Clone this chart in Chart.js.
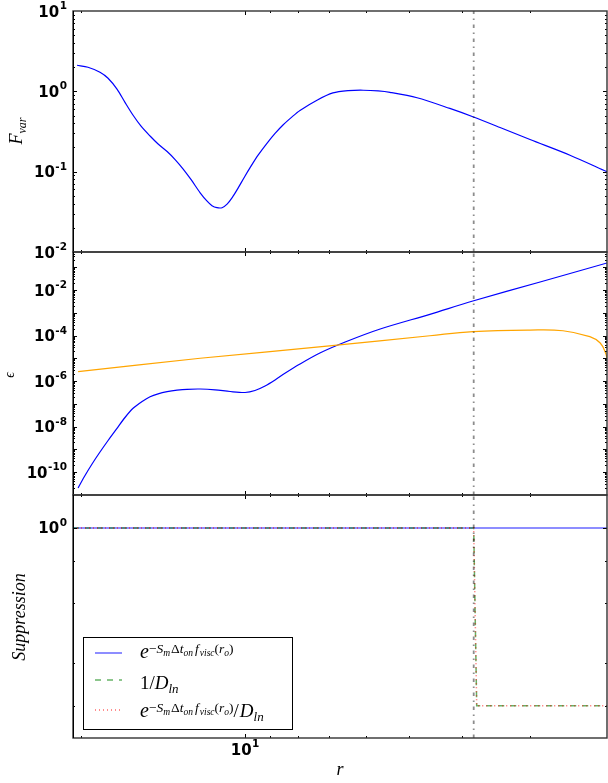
<!DOCTYPE html>
<html>
<head>
<meta charset="utf-8">
<script src="https://cdn.jsdelivr.net/npm/chart.js@4.4.1/dist/chart.umd.min.js"></script>
<style>
  html, body { margin: 0; padding: 0; background: #fff; }
  #fig { position: relative; width: 608px; height: 783px; overflow: hidden; }
  #fig canvas { position: absolute; left: 0; top: 0; }
</style>
</head>
<body>
<div id="fig">
  <canvas id="pFvar" width="608" height="783"></canvas>
  <canvas id="pEps" width="608" height="783"></canvas>
  <canvas id="pSup" width="608" height="783"></canvas>
</div>
<script>
// ---------- shared radius axis (log scale, r decreasing to the right) ----------
const rMin = 2.167, rMax = 20.69;
const rOuter = 3.806;                 // r_o, marked by the dash-dot line
const xMajorTicks = [10];
const xMinorTicks = [20, 9, 8, 7, 6, 5, 4, 3];
const xLabelExponents = [1];

// ---------- F_var ----------
const fvarR   = [20.34, 19.42, 18.46, 17.84, 17.18, 16.61, 16.05, 15.52, 14.94, 14.44, 13.9, 13.44, 13.0, 12.56, 12.09,
                 11.74, 11.5, 11.26, 11.02, 10.79, 10.56, 10.34, 10.0, 9.79, 9.465, 9.11, 8.81, 8.52, 8.2, 7.93, 7.38,
                 6.9, 6.47, 6.07, 5.7, 5.42, 4.835, 4.21, 3.82, 3.405, 3.0, 2.534, 2.167];
const fvarVal = [2.113, 1.995, 1.728, 1.454, 1.065, 0.729, 0.504, 0.369, 0.278, 0.221, 0.178, 0.1413, 0.1084, 0.0794,
                 0.0546, 0.0429, 0.0377, 0.0356, 0.0356, 0.0394, 0.0475, 0.0597, 0.0884, 0.1122, 0.1603, 0.227, 0.2995,
                 0.3815, 0.4815, 0.5788, 0.7762, 0.955, 1.02, 1.032, 1.012, 0.972, 0.832, 0.613, 0.483, 0.355, 0.251,
                 0.1603, 0.1];
const fvarLim = [0.01, 10];
const fvarLabelExp = [-2, -1, 0, 1];

// ---------- epsilon ----------
const epsBlueR   = [20.25, 19.74, 19.09, 18.46, 17.84, 17.18, 16.61, 16.05, 15.45, 14.94, 14.44, 13.9, 13.33, 12.78,
                    12.09, 11.35, 10.65, 10.0, 9.59, 9.19, 8.81, 8.45, 7.93, 7.29, 6.55, 5.65, 4.58, 3.82, 2.875, 2.167];
const epsBlueVal = [1.98e-11, 6.03e-11, 2.25e-10, 7.57e-10, 2.43e-9, 8.34e-9, 2.49e-8, 6.31e-8, 1.256e-7, 2.04e-7,
                    2.74e-7, 3.39e-7, 3.94e-7, 4.32e-7, 4.45e-7, 4.1e-7, 3.45e-7, 3.13e-7, 3.82e-7, 6.03e-7, 1.107e-6,
                    2.18e-6, 5.58e-6, 1.7e-5, 5.18e-5, 1.93e-4, 8.55e-4, 3.28e-3, 0.0225, 0.154];
const epsOrangeR   = [20.25, 12.09, 7.0, 4.58, 3.82, 3.0, 2.61, 2.33, 2.23, 2.18, 2.167];
const epsOrangeVal = [2.57e-6, 1.0e-5, 3.47e-5, 9.77e-5, 1.48e-4, 1.74e-4, 1.62e-4, 8.9e-5, 4.68e-5, 1.7e-5, 9.3e-6];
const epsLim = [9.77e-12, 0.468];
const epsLabelExp = [-10, -8, -6, -4, -2];

// ---------- suppression ----------
const supExpR   = [20.69, 2.167];
const supExpVal = [1, 1];
const supDlnR   = [20.69, 3.806, 3.758, 2.167];
const supDlnVal = [1, 1, 0.3, 0.3];
const supBothR   = [20.69, 3.806, 3.758, 2.167];
const supBothVal = [1, 1, 0.3, 0.3];
const supLim = [0.241, 1.25];
const supLabelExp = [0];
const supMinorTicks = [0.8, 0.6, 0.4, 0.3];

// ---------- helpers ----------
const pts = (xs, ys) => xs.map((x, i) => ({ x, y: ys[i] }));
const SERIF = '"Liberation Serif", "DejaVu Serif", serif';
const SANS = '"DejaVu Sans", sans-serif';

function decadeTicks(lo, hi) {
  const major = [], minor = [];
  for (let e = Math.floor(Math.log10(lo)) - 1; e <= Math.ceil(Math.log10(hi)); e++) {
    major.push(Math.pow(10, e));
    for (let k = 2; k <= 9; k++) minor.push(k * Math.pow(10, e));
  }
  return { major, minor };
}

function richText(ctx, segs, x, y, measureOnly) {
  let cx = x;
  for (const s of segs) {
    ctx.font = (s.i ? 'italic ' : '') + s.s + 'px ' + SERIF;
    if (!measureOnly) ctx.fillText(s.t, cx, y + (s.dy || 0));
    cx += ctx.measureText(s.t).width + (s.sp || 0);
  }
  return cx - x;
}

function drawPow10(ctx, exp, x, yc, align) {
  ctx.textAlign = 'left';
  ctx.textBaseline = 'alphabetic';
  ctx.fillStyle = '#000';
  ctx.font = 'bold 15px ' + SANS;
  const wBase = ctx.measureText('10').width;
  ctx.font = 'bold 10.5px ' + SANS;
  const e = String(exp);
  const wExp = ctx.measureText(e).width;
  const total = wBase + 0.5 + wExp;
  const x0 = align === 'right' ? x - total : align === 'center' ? x - total / 2 : x;
  ctx.font = 'bold 15px ' + SANS;
  ctx.fillText('10', x0, yc + 5.5);
  ctx.font = 'bold 10.5px ' + SANS;
  ctx.fillText(e, x0 + wBase + 0.5, yc - 2);
}

function rotatedTitle(ctx, segs, cx, cy, baseOff) {
  ctx.save();
  ctx.translate(cx, cy);
  ctx.rotate(-Math.PI / 2);
  ctx.fillStyle = '#000';
  ctx.textAlign = 'left';
  ctx.textBaseline = 'alphabetic';
  const w = richText(ctx, segs, 0, 0, true);
  richText(ctx, segs, -w / 2, baseOff);
  ctx.restore();
}

// spines, inward ticks on all four sides, tick labels
function framePlugin(spec) {
  return {
    id: 'frame',
    afterDatasetsDraw(chart) {
      const { ctx, chartArea: a, scales: { x, y } } = chart;
      ctx.save();
      ctx.strokeStyle = '#000';
      ctx.lineWidth = 1;
      const seg = (x1, y1, x2, y2) => { ctx.beginPath(); ctx.moveTo(x1, y1); ctx.lineTo(x2, y2); ctx.stroke(); };
      const xt = (vals, len) => vals.forEach(v => {
        const px = Math.round(x.getPixelForValue(v)) + 0.5;
        if (px > a.left + 1 && px < a.right - 1) { seg(px, a.bottom, px, a.bottom - len); seg(px, a.top, px, a.top + len); }
      });
      const yt = (vals, len) => vals.forEach(v => {
        const py = Math.round(y.getPixelForValue(v)) + 0.5;
        if (py > a.top + 1 && py < a.bottom - 1) { seg(a.left, py, a.left + len, py); seg(a.right, py, a.right - len, py); }
      });
      xt(xMajorTicks, 4);
      xt(xMinorTicks, 2);
      yt(spec.yMajor, 4);
      yt(spec.yMinor, 2);

      // frame
      ctx.strokeStyle = '#333';
      ctx.lineWidth = 1.4;
      ctx.strokeRect(a.left, a.top, a.right - a.left, a.bottom - a.top);
      ctx.strokeStyle = '#000';
      ctx.lineWidth = 1;
      seg(a.left + 0.5, a.top, a.left + 0.5, a.bottom);

      spec.yLabelExp.forEach(e => drawPow10(ctx, e, a.left - 6, y.getPixelForValue(Math.pow(10, e)), 'right'));
      if (spec.xLabels) {
        xLabelExponents.forEach(e => drawPow10(ctx, e, x.getPixelForValue(Math.pow(10, e)), 749, 'center'));
      }
      if (spec.title) spec.title(ctx);
      if (spec.extra) spec.extra(chart);
      ctx.restore();
    }
  };
}

function vline(lim) {
  return {
    data: [{ x: rOuter, y: lim[0] }, { x: rOuter, y: lim[1] }],
    borderColor: 'rgba(0,0,0,0.45)', borderWidth: 1.8, borderDash: [3.5, 4.5, 1.5, 4.5],
    pointRadius: 0, order: -1, tension: 0
  };
}

function makeChart(id, top, bottom, lim, datasets, spec) {
  return new Chart(document.getElementById(id), {
    type: 'line',
    data: { datasets },
    options: {
      responsive: false, animation: false, events: [],
      layout: { padding: { left: 73, right: 1, top, bottom: 783 - bottom } },
      plugins: { legend: { display: false }, tooltip: { enabled: false } },
      elements: { point: { radius: 0 } },
      scales: {
        x: { type: 'logarithmic', reverse: true, min: rMin, max: rMax, display: false },
        y: { type: 'logarithmic', min: lim[0], max: lim[1], display: false }
      }
    },
    plugins: [framePlugin(spec)]
  });
}

// ---------- top panel ----------
const fvTicks = decadeTicks(fvarLim[0], fvarLim[1]);
makeChart('pFvar', 11, 252, fvarLim, [
  { data: pts(fvarR, fvarVal), borderColor: '#0000ff', borderWidth: 1.2, tension: 0.3, order: 1 },
  vline(fvarLim)
], {
  yMajor: fvTicks.major, yMinor: fvTicks.minor, yLabelExp: fvarLabelExp,
  title: ctx => rotatedTitle(ctx, [{ t: 'F', s: 18, i: 1 }, { t: 'var', s: 12, i: 1, dy: 4 }], 18, 131, 4)
});

// ---------- middle panel ----------
const epTicks = decadeTicks(epsLim[0], epsLim[1]);
makeChart('pEps', 252, 495, epsLim, [
  { data: pts(epsBlueR, epsBlueVal), borderColor: '#0000ff', borderWidth: 1.2, tension: 0.3, order: 2 },
  { data: pts(epsOrangeR, epsOrangeVal), borderColor: '#ffa500', borderWidth: 1.2, tension: 0.4, order: 1 },
  vline(epsLim)
], {
  yMajor: epTicks.major, yMinor: epTicks.minor, yLabelExp: epsLabelExp,
  title: ctx => rotatedTitle(ctx, [{ t: '\u03F5', s: 14, i: 1 }], 11, 375, 3)
});

// ---------- bottom panel ----------
const supSets = [
  { data: pts(supExpR, supExpVal), borderColor: 'rgba(0,0,255,0.6)', borderWidth: 1.5, order: 3 },
  { data: pts(supDlnR, supDlnVal), borderColor: 'rgba(0,128,0,0.6)', borderWidth: 1.5, borderDash: [6, 6], order: 2 },
  { data: pts(supBothR, supBothVal), borderColor: 'rgba(255,0,0,0.6)', borderWidth: 1.5, borderDash: [1, 3], order: 1 },
  vline(supLim)
];

const expo = [
  { t: '\u2212', s: 13.5, dy: -5 }, { t: 'S', s: 13.5, i: 1, dy: -5 }, { t: 'm', s: 9.5, i: 1, dy: -2, sp: 1 },
  { t: '\u0394', s: 13.5, dy: -5 }, { t: 't', s: 13.5, i: 1, dy: -5 }, { t: 'on', s: 9.5, i: 1, dy: -2, sp: 2 },
  { t: 'f', s: 13.5, i: 1, dy: -5, sp: 1 }, { t: 'visc', s: 9.5, i: 1, dy: -2 }, { t: '(', s: 13.5, dy: -5 },
  { t: 'r', s: 13.5, i: 1, dy: -5 }, { t: 'o', s: 9.5, i: 1, dy: -2 }, { t: ')', s: 13.5, dy: -5 }
];
const legendItems = [
  { ds: 0, y: 653, base: 658, segs: [{ t: 'e', s: 20, i: 1 }, ...expo] },
  { ds: 1, y: 680, base: 689, segs: [{ t: '1/', s: 19 }, { t: 'D', s: 19, i: 1 }, { t: 'ln', s: 13, i: 1, dy: 4 }] },
  { ds: 2, y: 710, base: 716.5, segs: [{ t: 'e', s: 20, i: 1 }, ...expo, { t: '/', s: 19, sp: 1 }, { t: 'D', s: 19, i: 1 }, { t: 'ln', s: 13, i: 1, dy: 4 }] }
];

function drawLegend(chart) {
  const ctx = chart.ctx;
  ctx.save();
  ctx.fillStyle = '#fff';
  ctx.fillRect(83, 637, 210, 92);
  ctx.strokeStyle = '#000';
  ctx.lineWidth = 1;
  ctx.strokeRect(83.5, 637.5, 209, 92);
  legendItems.forEach(it => {
    const ds = chart.data.datasets[it.ds];
    ctx.strokeStyle = ds.borderColor;
    ctx.lineWidth = ds.borderWidth;
    ctx.setLineDash(ds.borderDash || []);
    ctx.beginPath(); ctx.moveTo(95, it.y); ctx.lineTo(122, it.y); ctx.stroke();
    ctx.setLineDash([]);
    ctx.fillStyle = '#000';
    ctx.textAlign = 'left';
    ctx.textBaseline = 'alphabetic';
    richText(ctx, it.segs, 140, it.base);
  });
  ctx.restore();
}

const suTicks = { major: [1], minor: supMinorTicks };
makeChart('pSup', 495, 738, supLim, supSets, {
  yMajor: suTicks.major, yMinor: suTicks.minor, yLabelExp: supLabelExp, xLabels: true,
  title: ctx => {
    rotatedTitle(ctx, [{ t: 'Suppression', s: 18, i: 1 }], 21, 617, 4);
    ctx.fillStyle = '#000';
    ctx.textAlign = 'center';
    ctx.font = 'italic 18px ' + SERIF;
    ctx.fillText('r', 340, 775);
  },
  extra: drawLegend
});
</script>
</body>
</html>
